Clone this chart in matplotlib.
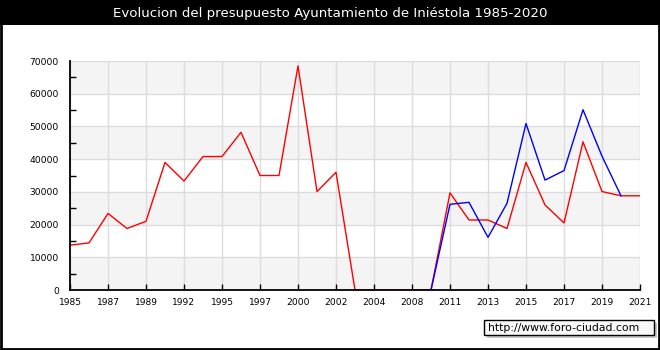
import matplotlib
matplotlib.use("Agg")
import matplotlib.pyplot as plt
from matplotlib.patches import Rectangle

W, H = 660, 350

# x positions are just the index of each point; only every other one gets a label
tick_labels = ["1985", "1987", "1989", "1992", "1995", "1997", "2000", "2002",
               "2004", "2008", "2011", "2013", "2015", "2017", "2019", "2021"]

red_values = [13700, 14400, 23400, 18800, 21000, 39000, 33300, 40800, 40800,
              48200, 35000, 35000, 68500, 30100, 36000, 0, 0, 0, 0, 0,
              29700, 21400, 21400, 18800, 39000, 26000, 20500, 45300, 30100,
              28800, 28800]
blue_start = 19
blue_values = [0, 26200, 26800, 16100, 26500, 50900, 33600, 36500, 55100,
               40900, 28800]

fig = plt.figure(figsize=(W / 100, H / 100), dpi=100)
fig.patch.set_facecolor("white")

def px(x0, y0, w, h):
    # figure-fraction rect from pixel coords (top-left origin)
    return (x0 / W, 1 - (y0 + h) / H), w / W, h / H

# title bar
xy, w, h = px(0, 0, W, 25)
fig.patches.append(Rectangle(xy, w, h, transform=fig.transFigure,
                             facecolor="black", edgecolor="none", zorder=0))
fig.text(0.5, 1 - 13 / H, "Evolucion del presupuesto Ayuntamiento de Iniéstola 1985-2020",
         color="white", fontsize=9.6, ha="center", va="center")

# outer border
fig.patches.append(Rectangle((0.0015, 0.003), 0.997, 0.994, transform=fig.transFigure,
                             facecolor="none", edgecolor="black", linewidth=2, zorder=5))

ax = fig.add_axes([70 / W, 1 - 290 / H, 570 / W, 229 / H])
ax.set_facecolor("white")

for lo in range(0, 70000, 20000):
    ax.axhspan(lo, lo + 10000, color="#f4f4f4", zorder=0, linewidth=0)

n = len(red_values)
xs = list(range(n))
ax.plot(xs, red_values, color="#ff0000", linewidth=1, zorder=2)
ax.plot(range(blue_start, blue_start + len(blue_values)), blue_values,
        color="#0000ff", linewidth=1, zorder=2)

ax.set_xlim(0, n - 1)
ax.set_ylim(0, 70000)
ax.set_xticks(list(range(0, n, 2)))
ax.set_xticklabels(tick_labels)
ax.set_yticks(list(range(0, 70001, 10000)))
ax.set_yticks(list(range(5000, 70000, 10000)), minor=True)

ax.grid(True, color="#dcdcdc", linewidth=1, zorder=1)
ax.set_axisbelow(True)

for s in ["top", "right"]:
    ax.spines[s].set_visible(False)
for s in ["left", "bottom"]:
    ax.spines[s].set_linewidth(1.3)
    ax.spines[s].set_color("black")

ax.tick_params(axis="both", which="both", direction="in", length=4, width=1,
               labelsize=6.6, pad=7)
ax.tick_params(axis="y", which="major", length=0, pad=8)
ax.tick_params(axis="x", pad=6)

# watermark box with shadow
xy, w, h = px(487, 323, 170, 15)
fig.patches.append(Rectangle(xy, w, h, transform=fig.transFigure,
                             facecolor="#c8c8c8", edgecolor="none", zorder=3))
xy, w, h = px(484, 320, 170, 15)
fig.patches.append(Rectangle(xy, w, h, transform=fig.transFigure,
                             facecolor="#f8f8f8", edgecolor="black", linewidth=1, zorder=4))
fig.text(488 / W, 1 - 328 / H, "http://www.foro-ciudad.com", fontsize=7.8,
         ha="left", va="center", zorder=6)

fig.savefig("out.png", dpi=100)
